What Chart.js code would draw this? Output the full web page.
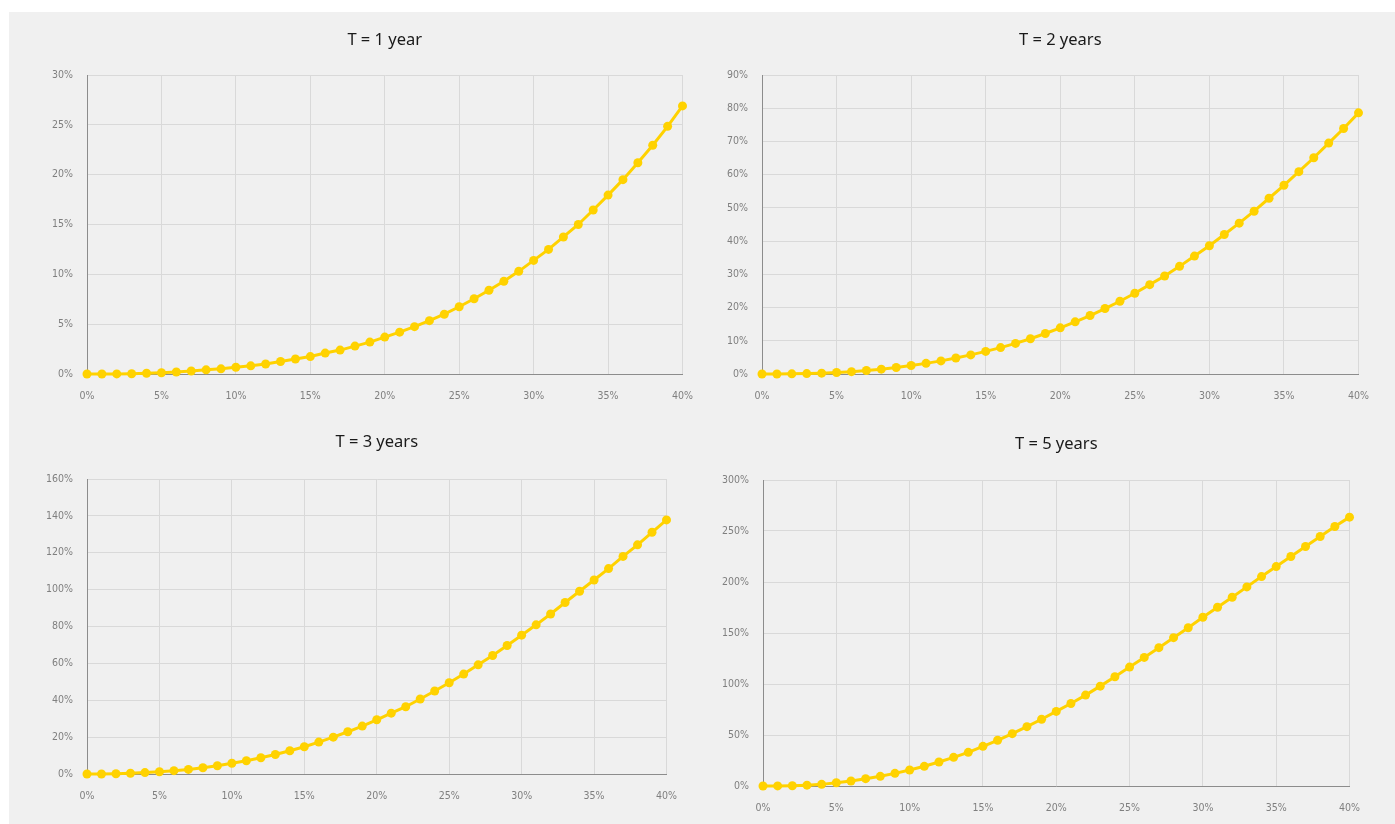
<!DOCTYPE html>
<html>
<head>
<meta charset="utf-8">
<script src="https://cdn.jsdelivr.net/npm/chart.js@4/dist/chart.umd.min.js"></script>
<style>
  html, body { margin: 0; padding: 0; background: #ffffff; width: 1395px; height: 824px; overflow: hidden; }
  #bg { position: absolute; left: 9px; top: 12px; right: 0; bottom: 0; background: #f0f0f0; }
  .box { position: absolute; }
  .box canvas { display: block; }
</style>
</head>
<body>
<div id="bg"></div>
<div class="box" id="b1"><canvas id="c1"></canvas></div>
<div class="box" id="b2"><canvas id="c2"></canvas></div>
<div class="box" id="b3"><canvas id="c3"></canvas></div>
<div class="box" id="b4"><canvas id="c4"></canvas></div>
<script>
// ---- data ----
const rates = [0,1,2,3,4,5,6,7,8,9,10,11,12,13,14,15,16,17,18,19,20,21,22,23,24,25,26,27,28,29,30,31,32,33,34,35,36,37,38,39,40];
const titles = ["T = 1 year", "T = 2 years", "T = 3 years", "T = 5 years"];
const valuesT1 = [0,0,0.01,0.03,0.07,0.12,0.2,0.3,0.42,0.52,0.68,0.82,1.0,1.25,1.5,1.75,2.1,2.4,2.8,3.2,3.7,4.2,4.75,5.35,6.0,6.75,7.55,8.4,9.3,10.3,11.4,12.5,13.75,15.0,16.45,17.95,19.5,21.2,22.95,24.85,26.9];
const valuesT2 = [0,0.01,0.05,0.12,0.25,0.45,0.7,1.05,1.45,1.95,2.55,3.2,3.95,4.8,5.75,6.8,7.95,9.2,10.6,12.2,13.9,15.7,17.6,19.7,21.9,24.3,26.9,29.5,32.4,35.5,38.6,42.0,45.4,49.0,52.9,56.8,60.9,65.1,69.5,73.9,78.6];
const valuesT3 = [0,0.03,0.15,0.4,0.75,1.2,1.8,2.5,3.4,4.5,5.8,7.2,8.8,10.6,12.6,14.8,17.3,20.0,22.9,26.0,29.4,33.0,36.5,40.7,45.0,49.5,54.2,59.2,64.3,69.7,75.3,80.9,86.8,93.0,99.1,105.2,111.4,118.0,124.3,131.1,137.8];
const valuesT5 = [0,0.1,0.3,0.8,1.6,3.2,4.9,7.2,9.5,12.4,15.7,19.3,23.5,28.1,33.0,38.9,44.8,51.3,58.2,65.4,73.1,80.9,89.1,97.9,107.1,116.6,126.1,135.6,145.4,155.2,165.4,175.2,185.1,195.2,205.3,215.1,225.0,234.8,244.6,254.4,263.6];
const xTicks = [0,5,10,15,20,25,30,35,40];
const yMaxes = [30, 90, 160, 300];
const ySteps = [5, 10, 20, 50];

// ---- layout (positions only) ----
const layouts = [
  { left: 9,   top: 12,  width: 700, height: 402, yW: 78, xH: 40, tTop: 18.1, tBot: 25.1 },
  { left: 700, top: 12,  width: 685, height: 402, yW: 62, xH: 40, tTop: 18.1, tBot: 25.1 },
  { left: 9,   top: 416, width: 684, height: 398, yW: 78, xH: 40, tTop: 16.6, tBot: 26.6 },
  { left: 700, top: 416, width: 676, height: 408, yW: 63, xH: 38, tTop: 18.1, tBot: 26.1 }
];
const series = [valuesT1, valuesT2, valuesT3, valuesT5];

const YELLOW = '#FFD200';
const TICK_FONT = { family: "'DejaVu Sans Condensed', 'DejaVu Sans', sans-serif", size: 10.5 };

function makeChart(i) {
  const L = layouts[i];
  const box = document.getElementById('b' + (i + 1));
  box.style.left = L.left + 'px';
  box.style.top = L.top + 'px';
  box.style.width = L.width + 'px';
  box.style.height = L.height + 'px';
  const vals = series[i];
  const pts = rates.map((r, k) => ({ x: r, y: vals[k] }));
  return new Chart(document.getElementById('c' + (i + 1)), {
    type: 'line',
    data: {
      datasets: [{
        data: pts,
        borderColor: YELLOW,
        backgroundColor: YELLOW,
        pointBackgroundColor: YELLOW,
        pointBorderColor: YELLOW,
        borderWidth: 3,
        pointRadius: 4.5,
        pointBorderWidth: 0,
        tension: 0,
        clip: false
      }]
    },
    options: {
      responsive: true,
      maintainAspectRatio: false,
      animation: false,
      devicePixelRatio: 1,
      layout: { padding: { left: 0, right: 14, top: 0, bottom: 0 } },
      plugins: {
        legend: { display: false },
        tooltip: { enabled: false },
        title: {
          display: true,
          text: titles[i],
          fullSize: false,
          color: '#1a1a1a',
          font: { family: "'Noto Sans', sans-serif", size: 16.5, weight: 'normal', lineHeight: 1.2 },
          padding: { top: L.tTop, bottom: L.tBot }
        }
      },
      scales: {
        x: {
          type: 'linear',
          min: 0, max: 40,
          afterBuildTicks: (s) => { s.ticks = xTicks.map(v => ({ value: v })); },
          afterFit: (s) => { s.height = L.xH; },
          ticks: { color: '#7f7f7f', font: TICK_FONT, padding: 16, callback: v => v + '%', maxRotation: 0 },
          grid: { color: '#d9d9d9', lineWidth: 1, drawTicks: false },
          border: { display: true, color: '#8c8c8c', width: 1 }
        },
        y: {
          min: 0, max: yMaxes[i],
          ticks: { stepSize: ySteps[i], color: '#7f7f7f', font: TICK_FONT, padding: 14, callback: v => v + '%' },
          afterFit: (s) => { s.width = L.yW; },
          grid: { color: '#d9d9d9', lineWidth: 1, drawTicks: false },
          border: { display: true, color: '#8c8c8c', width: 1 }
        }
      }
    }
  });
}
for (let i = 0; i < 4; i++) makeChart(i);
</script>
</body>
</html>
